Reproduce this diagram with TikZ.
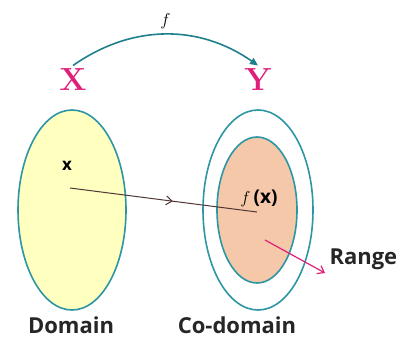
\documentclass[tikz,border=0pt]{standalone}
\usepackage{fontspec}
\newfontfamily\labfont{Open Sans}
\usetikzlibrary{arrows.meta,shapes.geometric,calc,decorations.markings}
\definecolor{setline}{RGB}{45,150,165}
\definecolor{domfill}{RGB}{255,255,192}
\definecolor{rngfill}{RGB}{246,200,170}
\definecolor{mag}{RGB}{222,32,122}
\definecolor{arcteal}{RGB}{30,128,140}
\definecolor{mapline}{RGB}{80,55,55}

\begin{document}
\begin{tikzpicture}[x=1pt,y=-1pt,
	setell/.style={draw=setline,line width=1.6pt,ellipse,inner sep=0pt},
	setname/.style={text=mag,font=\bfseries\fontsize{32}{32}\selectfont},
	caption/.style={font=\labfont\bfseries\fontsize{22}{22}\selectfont,text=black!85,anchor=base}]
	\useasboundingbox (0,0) rectangle (412,346);
	\node[setell,fill=domfill,minimum width=108,minimum height=200] (dom) at (72,210) {};
	\node[setell,fill=white,minimum width=110,minimum height=200] (codom) at (258,210) {};
	\node[setell,fill=rngfill,minimum width=80,minimum height=146] (rng) at (257,210) {};
	\node[setname] (X) at (73,80) {X};
	\node[setname] (Y) at (258,80) {Y};
	\draw[arcteal,line width=1.6pt,-{Triangle[length=8pt,width=7pt]}] (X.north) to[bend left=35] node[above=1pt,text=black,font=\fontsize{18}{18}\selectfont] (fname) {$f$} (Y.north); % la fonction f
	\coordinate (px) at (70,188);
	\coordinate (fx) at (257,212);
	\node[font=\labfont\bfseries\fontsize{17}{17}\selectfont] (xlab) at (67,166) {x};
	\node[font=\labfont\bfseries\fontsize{19}{19}\selectfont] (fxlab) at (259,198) {$f$\,(x)};
	\draw[mapline,line width=1pt,decoration={markings,mark=at position 0.55 with {\arrow{Straight Barb[length=6pt,width=9pt]}}},postaction={decorate}] (px) -- (fx); % x -> f(x)
	\coordinate (rs) at (265,240);
	\node[caption,anchor=base west] (range) at (326,264) {Range};
	\draw[mag,line width=1.2pt,-{Straight Barb[length=6pt,width=9pt]}] (rs) -- (325,273);
	\node[caption] (domname) at (71,333) {Domain};
	\node[caption] (codomname) at (237,333) {Co-domain};
\end{tikzpicture}
\end{document}
